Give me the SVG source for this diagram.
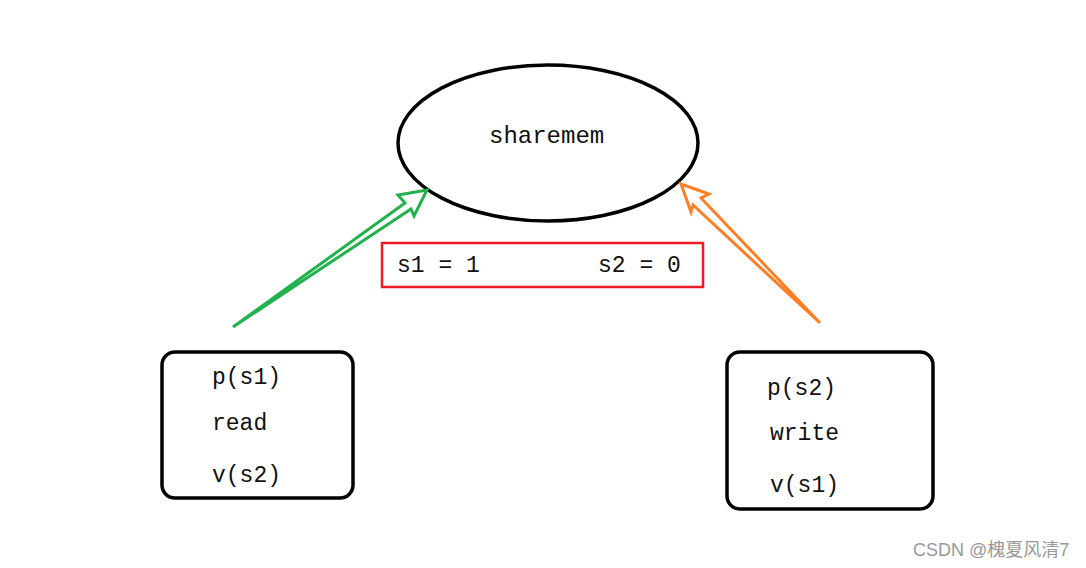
<svg xmlns="http://www.w3.org/2000/svg" width="1086" height="568" viewBox="0 0 1086 568">
<style>
.t{font-family:"Liberation Mono","DejaVu Sans Mono",monospace;fill:#111;}
.box{fill:none;stroke:#000;stroke-width:3.5;}
.wm{font-family:"Liberation Sans","Noto Sans CJK SC",sans-serif;font-size:18px;fill:#999;}
</style>
<rect width="1086" height="568" fill="#fff"/>
<g id="sharemem">
<ellipse cx="548" cy="143" rx="150" ry="78" class="box"/>
<text class="t" x="489" y="143" font-size="24">sharemem</text>
</g>
<g id="semaphores">
<rect x="382" y="243" width="321" height="44" fill="none" stroke="#ed1c24" stroke-width="2.5"/>
<text class="t" x="397" y="272" font-size="23">s1 = 1</text>
<text class="t" x="598" y="272" font-size="23">s2 = 0</text>
</g>
<g id="reader">
<rect x="162" y="352" width="191" height="146" rx="13" class="box"/>
<text class="t" x="212" y="384" font-size="23">p(s1)</text>
<text class="t" x="212" y="430" font-size="23">read</text>
<text class="t" x="212" y="482" font-size="23">v(s2)</text>
</g>
<g id="writer">
<rect x="727" y="352" width="206" height="157" rx="13" class="box"/>
<text class="t" x="767" y="395" font-size="23">p(s2)</text>
<text class="t" x="770" y="440" font-size="23">write</text>
<text class="t" x="770" y="492" font-size="23">v(s1)</text>
</g>
<g id="connectors" fill="none" stroke-width="3" stroke-linejoin="miter">
<polygon points="233,327 405,203 398,195 427,190 414,216 411,209" stroke="#22b14c"/>
<polygon points="820,323 693,205 691,212 681,184 709,194 701,198" stroke="#ff7f27"/>
</g>
<text class="wm" x="913" y="556">CSDN @槐夏风清7</text>
</svg>
